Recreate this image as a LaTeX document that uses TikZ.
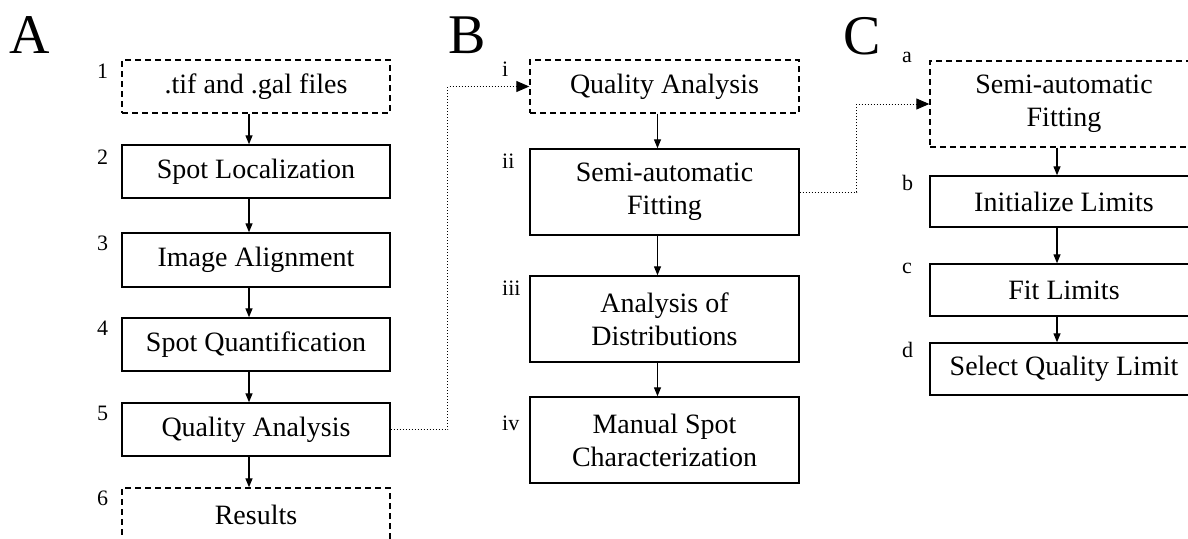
\documentclass[tikz,border=0pt]{standalone}
\usepackage{fontspec}
\setmainfont{Liberation Serif}
\usetikzlibrary{arrows.meta}
\begin{document}
\begin{tikzpicture}[x=1pt,y=-1pt,
 box/.style={draw, line width=1.4pt, minimum width=268pt, inner sep=0pt, align=center, font=\fontsize{28}{33}\selectfont},
 dbox/.style={box, dash pattern=on 6pt off 4pt},
 lab/.style={font=\fontsize{22}{26}\selectfont, inner sep=0pt, anchor=west},
 big/.style={font=\fontsize{56}{60}\selectfont, inner sep=0pt, anchor=base west},
 arr/.style={-{Triangle[length=9pt,width=7pt]}, line width=1.3pt},
 link/.style={dotted, line width=1pt, -{Triangle[length=13pt,width=11pt]}}
]
\useasboundingbox (0,0) rectangle (1188,538);
% letters
\node[big] (LA) at (9,53) {A};
\node[big] (LB) at (448,53) {B};
\node[big] (LC) at (843,54) {C};
% column A
\node[dbox, minimum height=53pt] (a1) at (256,86.5) {.tif and .gal files};
\node[box, minimum height=53pt] (a2) at (256,171.5) {Spot Localization};
\node[box, minimum height=54pt] (a3) at (256,260) {Image Alignment};
\node[box, minimum height=53pt] (a4) at (256,344.5) {Spot Quantification};
\node[box, minimum height=53pt] (a5) at (256,429.5) {Quality Analysis};
\node[dbox, minimum height=53pt] (a6) at (256,514.5) {Results};
\node[lab] (n1) at (97,71) {1};
\node[lab] (n2) at (97,157) {2};
\node[lab] (n3) at (97,243) {3};
\node[lab] (n4) at (97,328) {4};
\node[lab] (n5) at (97,413) {5};
\node[lab] (n6) at (97,498) {6};
% column B
\node[dbox, minimum width=269pt, minimum height=53pt] (b1) at (664.5,86.5) {Quality Analysis};
\node[box, minimum width=269pt, minimum height=86pt] (b2) at (664.5,192) {Semi-automatic\\Fitting};
\node[box, minimum width=269pt, minimum height=86pt] (b3) at (664.5,319) {Analysis of\\Distributions};
\node[box, minimum width=269pt, minimum height=86pt] (b4) at (664.5,440) {Manual Spot\\Characterization};
\node[lab] (r1) at (502,69) {i};
\node[lab] (r2) at (502,161) {ii};
\node[lab] (r3) at (502,288) {iii};
\node[lab] (r4) at (502,423) {iv};
% column C
\node[dbox, minimum height=86pt] (c1) at (1064,104) {Semi-automatic\\Fitting};
\node[box, minimum height=51pt] (c2) at (1064,201.5) {Initialize Limits};
\node[box, minimum height=52pt] (c3) at (1064,290) {Fit Limits};
\node[box, minimum height=52pt] (c4) at (1064,369) {Select Quality Limit};
\node[lab] (s1) at (902,57) {a};
\node[lab] (s2) at (902,183) {b};
\node[lab] (s3) at (902,268) {c};
\node[lab] (s4) at (902,350) {d};
% arrows
\foreach \u/\v in {a1/a2,a2/a3,a3/a4,a4/a5,a5/a6,b1/b2,b2/b3,b3/b4,c1/c2,c2/c3,c3/c4}
  \draw[arr] ([xshift=-7pt]\u.south) -- ([xshift=-7pt]\v.north);
% dotted links
\draw[link] (a5.east) -- ++(57,0) |- (b1.west);
\draw[link] (b2.east) -- ++(57,0) |- (c1.west);
\end{tikzpicture}
\end{document}
